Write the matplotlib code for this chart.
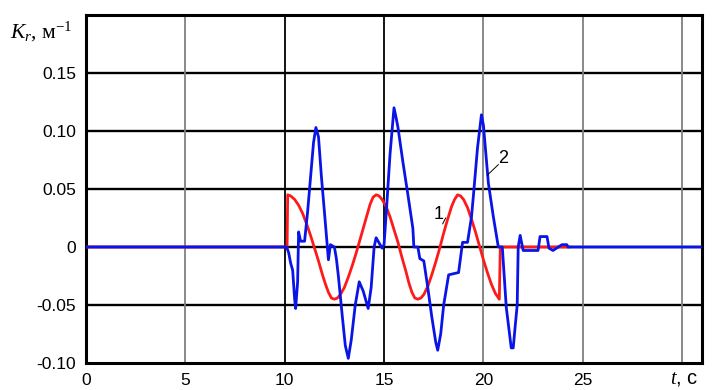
import matplotlib
matplotlib.use("Agg")
import matplotlib.pyplot as plt

# Curve 1 (red)
t_red = [0, 10.12, 10.15, 10.3, 10.5, 10.7, 10.9, 11.1, 11.3, 11.5, 11.7, 11.9, 12.05,
         12.2, 12.35, 12.5, 12.65, 12.8, 13.0, 13.2, 13.4, 13.6, 13.8, 14.0, 14.15, 14.3,
         14.45, 14.6, 14.75, 14.9, 15.1, 15.3, 15.5, 15.7, 15.9, 16.1, 16.25, 16.4, 16.55,
         16.7, 16.85, 17.0, 17.2, 17.4, 17.6, 17.8, 18.0, 18.2, 18.4, 18.55, 18.7, 18.85,
         19.0, 19.2, 19.4, 19.6, 19.8, 20.0, 20.2, 20.4, 20.6, 20.8, 20.85, 24.3]
k_red = [0, 0, 0.045, 0.044, 0.041, 0.036, 0.029, 0.020, 0.010, -0.001, -0.012, -0.024,
         -0.032, -0.039, -0.044, -0.045, -0.044, -0.041, -0.035, -0.026, -0.016, -0.005,
         0.007, 0.019, 0.028, 0.037, 0.043, 0.045, 0.044, 0.041, 0.035, 0.026, 0.015, 0.004,
         -0.009, -0.021, -0.031, -0.039, -0.044, -0.045, -0.044, -0.041, -0.034, -0.024,
         -0.013, -0.001, 0.012, 0.024, 0.035, 0.041, 0.045, 0.044, 0.041, 0.034, 0.024,
         0.013, 0.001, -0.011, -0.022, -0.032, -0.040, -0.045, 0.0, 0.0]

# Curve 2 (blue)
t_blue = [0, 10.1, 10.2, 10.3, 10.4, 10.5, 10.55, 10.65, 10.7, 10.8, 11.0, 11.15, 11.3,
          11.45, 11.57, 11.7, 11.85, 12.0, 12.2, 12.3, 12.5, 12.6, 12.7, 12.9, 13.05, 13.2,
          13.35, 13.55, 13.75, 13.95, 14.2, 14.35, 14.5, 14.6, 14.9, 15.0, 15.15, 15.3,
          15.5, 15.6, 15.7, 15.95, 16.2, 16.45, 16.5, 16.7, 16.8, 17.0, 17.2, 17.4, 17.6,
          17.7, 17.85, 18.0, 18.25, 18.75, 18.95, 19.2, 19.4, 19.5, 19.7, 19.9, 20.0,
          20.25, 20.5, 20.75, 20.95, 21.15, 21.4, 21.5, 21.6, 21.7, 21.75, 21.85, 22.0,
          22.75, 22.85, 23.2, 23.3, 23.5, 23.95, 24.2, 24.25, 31]
k_blue = [0, 0, -0.005, -0.014, -0.020, -0.045, -0.053, -0.030, 0.013, 0.005, 0.005,
          0.030, 0.060, 0.090, 0.103, 0.095, 0.060, 0.030, -0.011, 0.002, 0.000, -0.010,
          -0.025, -0.060, -0.085, -0.096, -0.080, -0.050, -0.030, -0.038, -0.053, -0.035,
          0.000, 0.008, -0.001, 0.002, 0.040, 0.080, 0.120, 0.112, 0.103, 0.073, 0.045,
          0.016, 0.000, 0.000, -0.010, -0.012, -0.035, -0.060, -0.082, -0.089, -0.075,
          -0.050, -0.024, -0.022, 0.004, 0.004, 0.026, 0.045, 0.085, 0.114, 0.105, 0.055,
          0.026, 0.000, 0.000, -0.052, -0.087, -0.087, -0.068, -0.050, 0.000, 0.010,
          -0.003, -0.003, 0.009, 0.009, -0.001, -0.003, 0.002, 0.002, 0.0, 0]

x_ticks = [0, 5, 10, 15, 20, 25]
y_ticks = [-0.10, -0.05, 0, 0.05, 0.10, 0.15]
y_tick_labels = ["-0.10", "-0.05", "0", "0.05", "0.10", "0.15"]

plt.rcParams['font.family'] = ['Liberation Sans', 'DejaVu Sans']
plt.rcParams['mathtext.fontset'] = 'custom'
plt.rcParams['mathtext.rm'] = 'Liberation Serif'
plt.rcParams['mathtext.it'] = 'Liberation Serif:italic'

fig = plt.figure(figsize=(7.13, 3.9), dpi=100)
ax = fig.add_axes([86 / 713, 1 - 363 / 390, (702 - 86) / 713, (363 - 15) / 390])

ax.set_xlim(0, 31)
ax.set_ylim(-0.10, 0.20)

# grid
for yv in [-0.05, 0, 0.05, 0.10, 0.15]:
    ax.axhline(yv, color='black', lw=1.7, zorder=1)
for xv in [5, 10, 15, 20, 25, 30]:
    col = 'black' if xv in (10, 15) else '#808080'
    ax.axvline(xv, color=col, lw=1.3, zorder=1)

ax.plot(t_red, k_red, color='#ff1a1a', lw=2.0, zorder=3)
ax.plot(t_blue, k_blue, color='#0a14e6', lw=2.0, zorder=4)

for s in ax.spines.values():
    s.set_linewidth(2.2)
    s.set_color('black')

ax.set_xticks(x_ticks)
ax.set_xticklabels([str(v) for v in x_ticks], fontsize=12.5)
ax.set_yticks(y_ticks)
ax.set_yticklabels(y_tick_labels, fontsize=12.5)
ax.tick_params(length=0, pad=7)

ax.text(30.1, -0.1055, r"$t$, c", fontsize=14.5, ha='center', va='top')
ax.text(-0.65, 0.185, r"$K_r$, м$^{-1}$", fontsize=15.5, family='Liberation Serif',
        ha='right', va='center')

# curve labels
ax.text(17.75, 0.028, "1", fontsize=13, ha='center', va='center', zorder=5)
ax.plot([17.95, 18.1], [0.020, 0.025], color='black', lw=0.7, zorder=5)
ax.text(21.0, 0.076, "2", fontsize=13, ha='center', va='center', zorder=5)
ax.plot([20.2, 20.75], [0.062, 0.071], color='black', lw=0.7, zorder=5)

fig.savefig("out.png", dpi=100)
